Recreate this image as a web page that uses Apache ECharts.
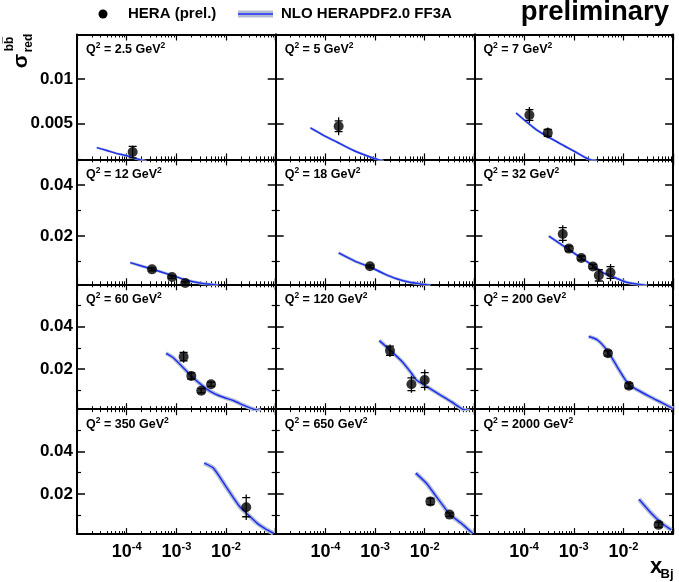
<!DOCTYPE html>
<html><head><meta charset="utf-8">
<script src="https://cdn.jsdelivr.net/npm/echarts@6/dist/echarts.min.js"></script>
<style>html,body{margin:0;padding:0;background:#fff}#c{width:679px;height:582px}</style>
</head><body><div id="c"></div>
<script>
// ---------------- data ----------------
const Q2_LABELS = ['2.5', '5', '7', '12', '18', '32', '60', '120', '200', '350', '650', '2000'];
// points: [x_Bj, sigma_red, stat err, total err]
const PTS_2P5 = [[1.32e-4, 0.00182, 0.00065, 0.0007]];
const PTS_5 = [[1.85e-4, 0.00472, 0.0006, 0.001]];
const PTS_7 = [[1.28e-4, 0.00597, 0.0006, 0.0009], [3.0e-4, 0.00397, 0.0004, 0.0006]];
const PTS_12 = [[3.23e-4, 0.00686, 0.0006, 0.0008], [8.15e-4, 0.00383, 0.0005, 0.0007], [1.51e-3, 0.0015, 0.0005, 0.0007]];
const PTS_18 = [[7.9e-4, 0.00805, 0.0005, 0.0008]];
const PTS_32 = [[6.0e-4, 0.0207, 0.0025, 0.0035], [8.0e-4, 0.0150, 0.001, 0.0014], [1.42e-3, 0.0113, 0.0008, 0.001],
                [2.43e-3, 0.0080, 0.0008, 0.001], [3.2e-3, 0.0045, 0.0022, 0.0024], [5.5e-3, 0.0056, 0.0023, 0.0034]];
const PTS_60 = [[1.40e-3, 0.0258, 0.002, 0.0028], [2.0e-3, 0.0167, 0.0015, 0.002], [3.17e-3, 0.00975, 0.001, 0.0013], [5.0e-3, 0.0128, 0.001, 0.0013]];
const PTS_120 = [[2.0e-3, 0.0286, 0.0022, 0.003], [5.4e-3, 0.0128, 0.003, 0.004], [1.0e-2, 0.0148, 0.0035, 0.005]];
const PTS_200 = [[4.87e-3, 0.0274, 0.0012, 0.0016], [1.29e-2, 0.0121, 0.0012, 0.0016]];
const PTS_350 = [[2.55e-2, 0.0137, 0.0045, 0.006]];
const PTS_650 = [[1.3e-2, 0.0164, 0.0015, 0.002], [3.16e-2, 0.0102, 0.0008, 0.001]];
const PTS_2000 = [[5.1e-2, 0.00536, 0.0012, 0.0016]];
// NLO HERAPDF2.0 FF3A prediction: [x_Bj, sigma_red]
const CURVE_2P5 = [[2.5e-5, 0.00232], [4e-5, 0.00200], [6.4e-5, 0.00165], [1e-4, 0.00142], [1.6e-4, 0.00106], [2.5e-4, 0.0008]];
const CURVE_5 = [[5e-5, 0.00453], [9.2e-5, 0.0037], [1.7e-4, 0.00295], [3.7e-4, 0.0020], [6.2e-4, 0.0015], [1e-3, 0.00108], [1.5e-3, 0.0008]];
const CURVE_7 = [[6.9e-5, 0.0062], [1.75e-4, 0.00435], [5.2e-4, 0.0028], [1e-3, 0.00194], [1.95e-3, 0.00105], [3e-3, 0.0008]];
const CURVE_12 = [[1.18e-4, 0.0095], [3.2e-4, 0.0070], [8.2e-4, 0.0045], [1.5e-3, 0.0028], [3e-3, 0.0015], [4.8e-3, 0.0010], [7e-3, 0.0006]];
const CURVE_18 = [[1.85e-4, 0.0133], [4e-4, 0.0100], [7.9e-4, 0.0078], [1.5e-3, 0.0052], [2.7e-3, 0.0032], [5e-3, 0.0018], [9.3e-3, 0.001], [1.3e-2, 0.0006]];
const CURVE_32 = [[3.15e-4, 0.0199], [8e-4, 0.0146], [1.42e-3, 0.0113], [2.43e-3, 0.0084], [4e-3, 0.0054], [7.2e-3, 0.0034], [1.15e-2, 0.0018], [1.96e-2, 0.001], [3e-2, 0.0005]];
const CURVE_60 = [[6.2e-4, 0.0274], [8.8e-4, 0.0252], [2e-3, 0.0167], [3.2e-3, 0.0125], [5e-3, 0.0092], [8e-3, 0.0070], [1.42e-2, 0.0050], [2.3e-2, 0.0028], [3.57e-2, 0.001], [5e-2, 0.0003]];
const CURVE_120 = [[1.22e-3, 0.0334], [2e-3, 0.0289], [3.5e-3, 0.0235], [5.4e-3, 0.0180], [6.8e-3, 0.0148], [1.1e-2, 0.0117], [2e-2, 0.0079], [3.5e-2, 0.0044], [5.8e-2, 0.001], [8e-2, 0.0003]];
const CURVE_200 = [[2e-3, 0.0353], [3e-3, 0.0337], [4.9e-3, 0.0282], [7.5e-3, 0.0210], [1.29e-2, 0.0125], [2.1e-2, 0.0096], [3.4e-2, 0.0069], [6e-2, 0.0040], [1e-1, 0.0013]];
const CURVE_350 = [[3.64e-3, 0.0345], [5.6e-3, 0.0321], [1e-2, 0.0234], [1.88e-2, 0.014], [2.8e-2, 0.0101], [4.2e-2, 0.0062], [6.2e-2, 0.0035], [9e-2, 0.0014]];
const CURVE_650 = [[6.6e-3, 0.0298], [1.08e-2, 0.025], [1.71e-2, 0.0187], [2.3e-2, 0.0147], [3.16e-2, 0.0104], [5.4e-2, 0.0062], [7.2e-2, 0.0036], [9.2e-2, 0.0014]];
const CURVE_2000 = [[2.06e-2, 0.0175], [3.63e-2, 0.0109], [6e-2, 0.0060], [9.2e-2, 0.0030]];

const Y_MIN = 0.001;
const ROW_YMAX = [0.015, 0.05, 0.06, 0.06];
const ROW_Y_MAJOR = [[0.005, 0.01], [0.02, 0.04], [0.02, 0.04], [0.02, 0.04]];
const ROW_Y_MINOR = [[], [0.01, 0.03, 0.05], [0.01, 0.03, 0.05], [0.01, 0.03, 0.05]];
const X_MIN = 1e-5, X_MAX = 1e-1;
const X_LABEL_EXPONENTS = [-4, -3, -2];

const PANELS = [
  [Q2_LABELS[0], PTS_2P5, CURVE_2P5], [Q2_LABELS[1], PTS_5, CURVE_5], [Q2_LABELS[2], PTS_7, CURVE_7],
  [Q2_LABELS[3], PTS_12, CURVE_12], [Q2_LABELS[4], PTS_18, CURVE_18], [Q2_LABELS[5], PTS_32, CURVE_32],
  [Q2_LABELS[6], PTS_60, CURVE_60], [Q2_LABELS[7], PTS_120, CURVE_120], [Q2_LABELS[8], PTS_200, CURVE_200],
  [Q2_LABELS[9], PTS_350, CURVE_350], [Q2_LABELS[10], PTS_650, CURVE_650], [Q2_LABELS[11], PTS_2000, CURVE_2000]
];

// ---------------- layout ----------------
const FONT = '"Liberation Sans", Arial, Helvetica, sans-serif';
const COL_LEFT = 77, COL_W = 198.7, ROW_TOP = 34.5, ROW_H = 124.9;
const BLUE = '#1c2ff2', BAND = '#b3bdd2';
const ROW_BAND_W = [2.5, 3, 4, 4.5];
// minor decade ticks (log10 positions of 2..9 x 10^e)
const MINOR_LOG = [];
for (let e = -5; e < -1; e++) for (let m = 2; m <= 9; m++) MINOR_LOG.push(Math.log10(m) + e);

const option = { animation: false, grid: [], xAxis: [], yAxis: [], series: [], graphic: [] };

PANELS.forEach((p, i) => {
  const r = Math.floor(i / 3), c = i % 3;
  const left = COL_LEFT + c * COL_W, top = ROW_TOP + r * ROW_H;
  option.grid.push({ left: left, top: top, width: COL_W, height: ROW_H });
  const xi = option.xAxis.length, yi = option.yAxis.length;
  const logX = (pos, labels) => ({
    type: 'log', logBase: 10, gridIndex: i, position: pos, min: X_MIN, max: X_MAX,
    axisLine: { show: true, onZero: false, lineStyle: { color: '#000', width: 2 } },
    axisTick: { show: true, inside: true, length: 6, lineStyle: { color: '#000', width: 1.2 } },
    axisLabel: {
      show: labels, margin: 7, color: '#000',
      formatter: v => { const e = Math.round(Math.log10(v)); return X_LABEL_EXPONENTS.indexOf(e) >= 0 ? '{a|10}{b|' + e + '}' : ''; },
      rich: {
        a: { fontFamily: FONT, fontWeight: 'bold', fontSize: 18, lineHeight: 22, color: '#000' },
        b: { fontFamily: FONT, fontWeight: 'bold', fontSize: 11, lineHeight: 12, verticalAlign: 'top', color: '#000' }
      }
    },
    splitLine: { show: false }
  });
  const minX = pos => ({
    type: 'value', gridIndex: i, position: pos, min: -5, max: -1,
    axisLine: { show: false, onZero: false },
    axisTick: { show: true, inside: true, length: 3, customValues: MINOR_LOG, lineStyle: { color: '#000', width: 1 } },
    axisLabel: { show: false }, splitLine: { show: false }
  });
  option.xAxis.push(logX('bottom', r === 3), minX('bottom'), logX('top', false), minX('top'));
  const majY = (pos, labels) => ({
    type: 'value', gridIndex: i, position: pos, min: Y_MIN, max: ROW_YMAX[r],
    axisLine: { show: true, onZero: false, lineStyle: { color: '#000', width: 2 } },
    axisTick: { show: true, inside: true, length: 8, customValues: ROW_Y_MAJOR[r], lineStyle: { color: '#000', width: 1.5 } },
    axisLabel: { show: labels, customValues: ROW_Y_MAJOR[r], margin: 4, color: '#000', fontFamily: FONT, fontWeight: 'bold', fontSize: 17,
      formatter: v => String(+(+v).toFixed(4)) },
    splitLine: { show: false }
  });
  const minY = pos => ({
    type: 'value', gridIndex: i, position: pos, min: Y_MIN, max: ROW_YMAX[r],
    axisLine: { show: false, onZero: false },
    axisTick: { show: ROW_Y_MINOR[r].length > 0, inside: true, length: 4, customValues: ROW_Y_MINOR[r], lineStyle: { color: '#000', width: 1.2 } },
    axisLabel: { show: false }, splitLine: { show: false }
  });
  option.yAxis.push(majY('left', c === 0), minY('left'), majY('right', false), minY('right'));

  const pts = p[1], curve = p[2];
  option.series.push({
    type: 'line', xAxisIndex: xi, yAxisIndex: yi, data: curve, smooth: 0.2, showSymbol: false, clip: true, silent: true,
    lineStyle: { color: BAND, width: ROW_BAND_W[r] }, z: 2
  });
  option.series.push({
    type: 'line', xAxisIndex: xi, yAxisIndex: yi, data: curve, smooth: 0.2, showSymbol: false, clip: true, silent: true,
    lineStyle: { color: BLUE, width: 1.5 }, z: 3
  });
  option.series.push({
    type: 'custom', xAxisIndex: xi, yAxisIndex: yi, data: pts, clip: true, silent: true, z: 4,
    encode: { x: 0, y: 1 },
    renderItem: (params, api) => {
      const x = api.value(0), y = api.value(1), s = api.value(2), t = api.value(3);
      const tHi = api.coord([x, y + t]), tLo = api.coord([x, y - t]);
      const sHi = api.coord([x, y + s]), sLo = api.coord([x, y - s]);
      const w = 4, st = { stroke: '#000', lineWidth: 1.3 };
      return { type: 'group', children: [
        { type: 'line', shape: { x1: tHi[0], y1: tHi[1], x2: tLo[0], y2: tLo[1] }, style: st },
        { type: 'line', shape: { x1: sHi[0] - w, y1: sHi[1], x2: sHi[0] + w, y2: sHi[1] }, style: st },
        { type: 'line', shape: { x1: sLo[0] - w, y1: sLo[1], x2: sLo[0] + w, y2: sLo[1] }, style: st }
      ] };
    }
  });
  option.series.push({
    type: 'scatter', xAxisIndex: xi, yAxisIndex: yi, data: pts.map(d => [d[0], d[1]]), symbol: 'circle', symbolSize: 10,
    itemStyle: { color: '#000' }, silent: true, z: 5
  });
  option.graphic.push({
    type: 'text', x: left + 9, y: top + 6.5, z: 20,
    style: { text: '{a|Q}{b|2}{a| = ' + p[0] + ' GeV}{b|2}', align: 'left', verticalAlign: 'top',
      rich: {
        a: { fontFamily: FONT, fontWeight: 'bold', fontSize: 12.5, lineHeight: 18, fill: '#000' },
        b: { fontFamily: FONT, fontWeight: 'bold', fontSize: 8.5, lineHeight: 10, verticalAlign: 'top', fill: '#000' }
      } }
  });
});

// legend, titles
option.graphic.push(
  { type: 'circle', shape: { cx: 103, cy: 14, r: 4.5 }, style: { fill: '#000' } },
  { type: 'text', x: 128, y: 14, style: { text: 'HERA (prel.)', font: 'bold 15px ' + FONT, fill: '#000', align: 'left', verticalAlign: 'middle' } },
  { type: 'rect', shape: { x: 238, y: 10.5, width: 35, height: 7 }, style: { fill: BAND } },
  { type: 'line', shape: { x1: 238, y1: 14, x2: 273, y2: 14 }, style: { stroke: BLUE, lineWidth: 1.5 } },
  { type: 'text', x: 281, y: 14, style: { text: 'NLO HERAPDF2.0 FF3A', font: 'bold 15px ' + FONT, fill: '#000', align: 'left', verticalAlign: 'middle' } },
  { type: 'text', x: 669, y: 12, style: { text: 'preliminary', font: 'bold 27.5px ' + FONT, fill: '#000', align: 'right', verticalAlign: 'middle' } },
  { type: 'text', x: 21, y: 61, rotation: Math.PI / 2, style: { text: 'σ', font: 'bold 21px ' + FONT, fill: '#000', align: 'center', verticalAlign: 'middle' } },
  { type: 'text', x: 10, y: 44, rotation: Math.PI / 2, style: { text: 'bb\u0305', font: 'bold 12px ' + FONT, fill: '#000', align: 'center', verticalAlign: 'middle' } },
  { type: 'text', x: 29, y: 43, rotation: Math.PI / 2, style: { text: 'red', font: 'bold 12px ' + FONT, fill: '#000', align: 'center', verticalAlign: 'middle' } },
  { type: 'text', x: 656, y: 567, style: { text: 'x', font: 'bold 22px ' + FONT, fill: '#000', align: 'center', verticalAlign: 'middle' } },
  { type: 'text', x: 667, y: 574, style: { text: 'Bj', font: 'bold 13px ' + FONT, fill: '#000', align: 'center', verticalAlign: 'middle' } }
);

const chart = echarts.init(document.getElementById('c'), null, { renderer: 'canvas' });
chart.setOption(option);
</script>
</body></html>
